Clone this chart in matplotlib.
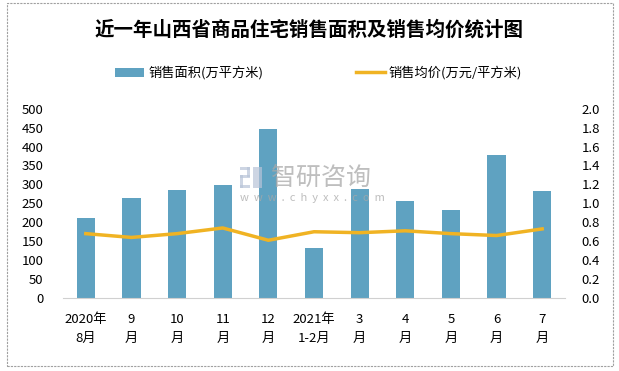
import numpy as np
import matplotlib.pyplot as plt
from matplotlib.patches import Rectangle

plt.rcParams['font.family'] = ['Noto Sans CJK SC', 'DejaVu Sans']

# data
months = ['2020年\n8月', '9\n月', '10\n月', '11\n月', '12\n月', '2021年\n1-2月',
          '3\n月', '4\n月', '5\n月', '6\n月', '7\n月']
area = [211, 264, 285, 298, 446, 132, 288, 256, 232, 378, 282]
price = [0.68, 0.64, 0.68, 0.74, 0.61, 0.70, 0.69, 0.71, 0.68, 0.66, 0.73]

bar_color = '#5fa2c1'
line_color = '#f0b323'

W, H = 619, 371
fig = plt.figure(figsize=(6.19, 3.71), dpi=100)
fig.patches.append(Rectangle((7 / W, 1 - 366 / H), 606 / W, 363 / H,
                             transform=fig.transFigure, fill=False,
                             edgecolor='#a0a0a0', linewidth=0.8, linestyle=(0, (2, 1))))

ax = fig.add_axes([63 / W, 1 - 298 / H, 502 / W, 189.3 / H])
x = np.arange(len(months))
ax.bar(x, area, width=0.4, color=bar_color, label='销售面积(万平方米)', zorder=2)
ax.set_xlim(-0.5, len(months) - 0.5)
ax.set_ylim(0, 500)
ax.set_yticks(range(0, 501, 50))
ax.set_xticks(x)
ax.set_xticklabels(months, fontsize=9.5, linespacing=1.55)
ax.tick_params(length=0, labelsize=9.5)
ax.tick_params(axis='x', pad=11)
ax.tick_params(axis='y', pad=14)
for s in ['top', 'right', 'left']:
    ax.spines[s].set_visible(False)
ax.spines['bottom'].set_color('#d0d0d0')

ax2 = ax.twinx()
ax2.plot(x, price, color=line_color, linewidth=2.5, label='销售均价(万元/平方米)', zorder=3)
ax2.set_ylim(0, 2.0)
ax2.set_yticks(np.arange(0, 2.01, 0.2))
ax2.set_yticklabels([f'{v:.1f}' for v in np.arange(0, 2.01, 0.2)])
ax2.tick_params(length=0, labelsize=9.5, pad=12)
for s in ax2.spines.values():
    s.set_visible(False)

# watermark
wm = '#a8a8a8'
for (px, py, pw, ph) in [(240, 167, 10, 3), (247, 167, 3, 10), (240, 175, 10, 3),
                         (240, 175, 3, 13), (240, 185, 10, 3), (253, 167, 9, 21)]:
    fig.patches.append(Rectangle((px / W, 1 - (py + ph) / H), pw / W, ph / H,
                                 transform=fig.transFigure, color='#b8c4d8',
                                 alpha=0.7, zorder=5, linewidth=0))
fig.text(271 / W, 1 - 178 / H, '智研咨询', fontsize=18, color=wm, alpha=0.75,
         ha='left', va='center', zorder=5)
fig.text(240 / W, 1 - 198 / H, 'w  w  w  .  c  h  y  x  x  .  c  o  m', fontsize=8,
         color=wm, alpha=0.75, ha='left', va='center', zorder=5)

fig.text(0.5, 1 - 30 / H, '近一年山西省商品住宅销售面积及销售均价统计图',
         fontsize=14, fontweight='bold', ha='center', va='center')

h1, l1 = ax.get_legend_handles_labels()
h2, l2 = ax2.get_legend_handles_labels()
fig.legend(h1 + h2, l1 + l2, loc='center', bbox_to_anchor=(0.515, 1 - 73 / H),
           ncol=2, frameon=False, fontsize=9.5, columnspacing=7, handlelength=2.2,
           handletextpad=0.3)

fig.savefig('out.png', dpi=100)
